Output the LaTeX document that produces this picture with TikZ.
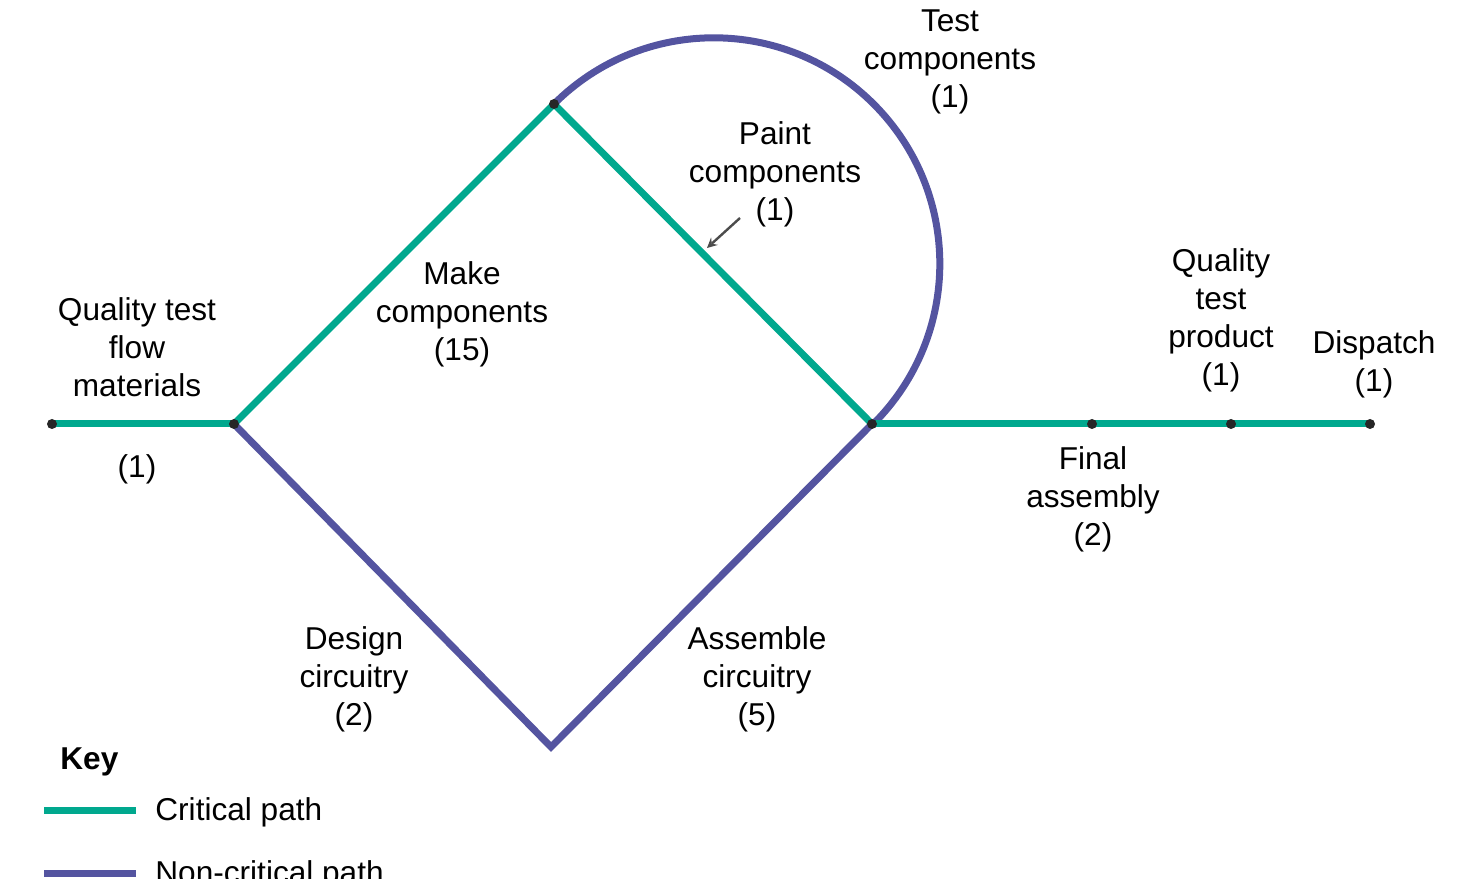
\documentclass[tikz,border=0pt]{standalone}
\usepackage{fontspec}
\setmainfont{Liberation Sans}
\usetikzlibrary{positioning}
\definecolor{crit}{RGB}{0,168,142}
\definecolor{noncrit}{RGB}{84,84,160}
\begin{document}
\begin{tikzpicture}[x=0.5pt,y=0.5pt, font=\fontsize{15.8}{19}\selectfont,
  v/.style={circle, fill=black!85, inner sep=0pt, minimum size=5pt},
  cp/.style={crit, line width=3.5pt},
  ncp/.style={noncrit, line width=3.5pt},
  lbl/.style={align=center, inner sep=0pt}]
	\useasboundingbox (0,0) rectangle (1465,878);
	\coordinate (s) at (52,454);
	\coordinate (a) at (234,454);
	\coordinate (b) at (554,774);
	\coordinate (c) at (872,454);
	\coordinate (d) at (551,131);
	\coordinate (e) at (1092,454);
	\coordinate (f) at (1231,454);
	\coordinate (g) at (1370,454);

	\draw[ncp] (b) arc[start angle=135, end angle=-45, radius=113pt];
	\draw[ncp, line join=miter] (a) -- (d) -- (c);
	\draw[cp] (s) -- (a);
	\draw[cp] (a) -- (b);
	\draw[cp] (b) -- (c);
	\draw[cp] (c) -- (g);

	\foreach \p in {s,a,b,c,e,f,g} \node[v] at (\p) {};

	\node[lbl] (test) at (950,816) {Test\\components\\(1)};
	\node[lbl] (paint) at (775,704) {Paint\\components\\(1)};
	\node[lbl] (make) at (462,564) {Make\\components\\(15)};
	\node[lbl] (qflow) at (137,531) {Quality test\\flow\\materials};
	\node[lbl] (qone) at (137,409) {(1)};
	\node[lbl] (design) at (354,199) {Design\\circuitry\\(2)};
	\node[lbl] (assem) at (757,199) {Assemble\\circuitry\\(5)};
	\node[lbl] (final) at (1093,379) {Final\\assembly\\(2)};
	\node[lbl] (qprod) at (1221,558) {Quality\\test\\product\\(1)};
	\node[lbl] (disp) at (1374,514) {Dispatch\\(1)};

	\coordinate (pa) at (740,660);
	\coordinate (pb) at (707,630);
	\draw[black!70, line width=1.2pt, -stealth] (pa) -- (pb);

	% key
	\node[anchor=west, inner sep=0pt, font=\fontsize{15.8}{19}\selectfont\bfseries] (key) at (60,116) {Key};
	\coordinate (k1) at (44,68);
	\coordinate (k2) at (136,68);
	\draw[cp] (k1) -- (k2);
	\node[anchor=west, inner sep=0pt] (crit) at (155,66) {Critical path};
	\coordinate (k3) at (44,5);
	\coordinate (k4) at (136,5);
	\draw[ncp] (k3) -- (k4);
	\node[anchor=west, inner sep=0pt] (ncrit) at (155,3) {Non-critical path};
\end{tikzpicture}
\end{document}
